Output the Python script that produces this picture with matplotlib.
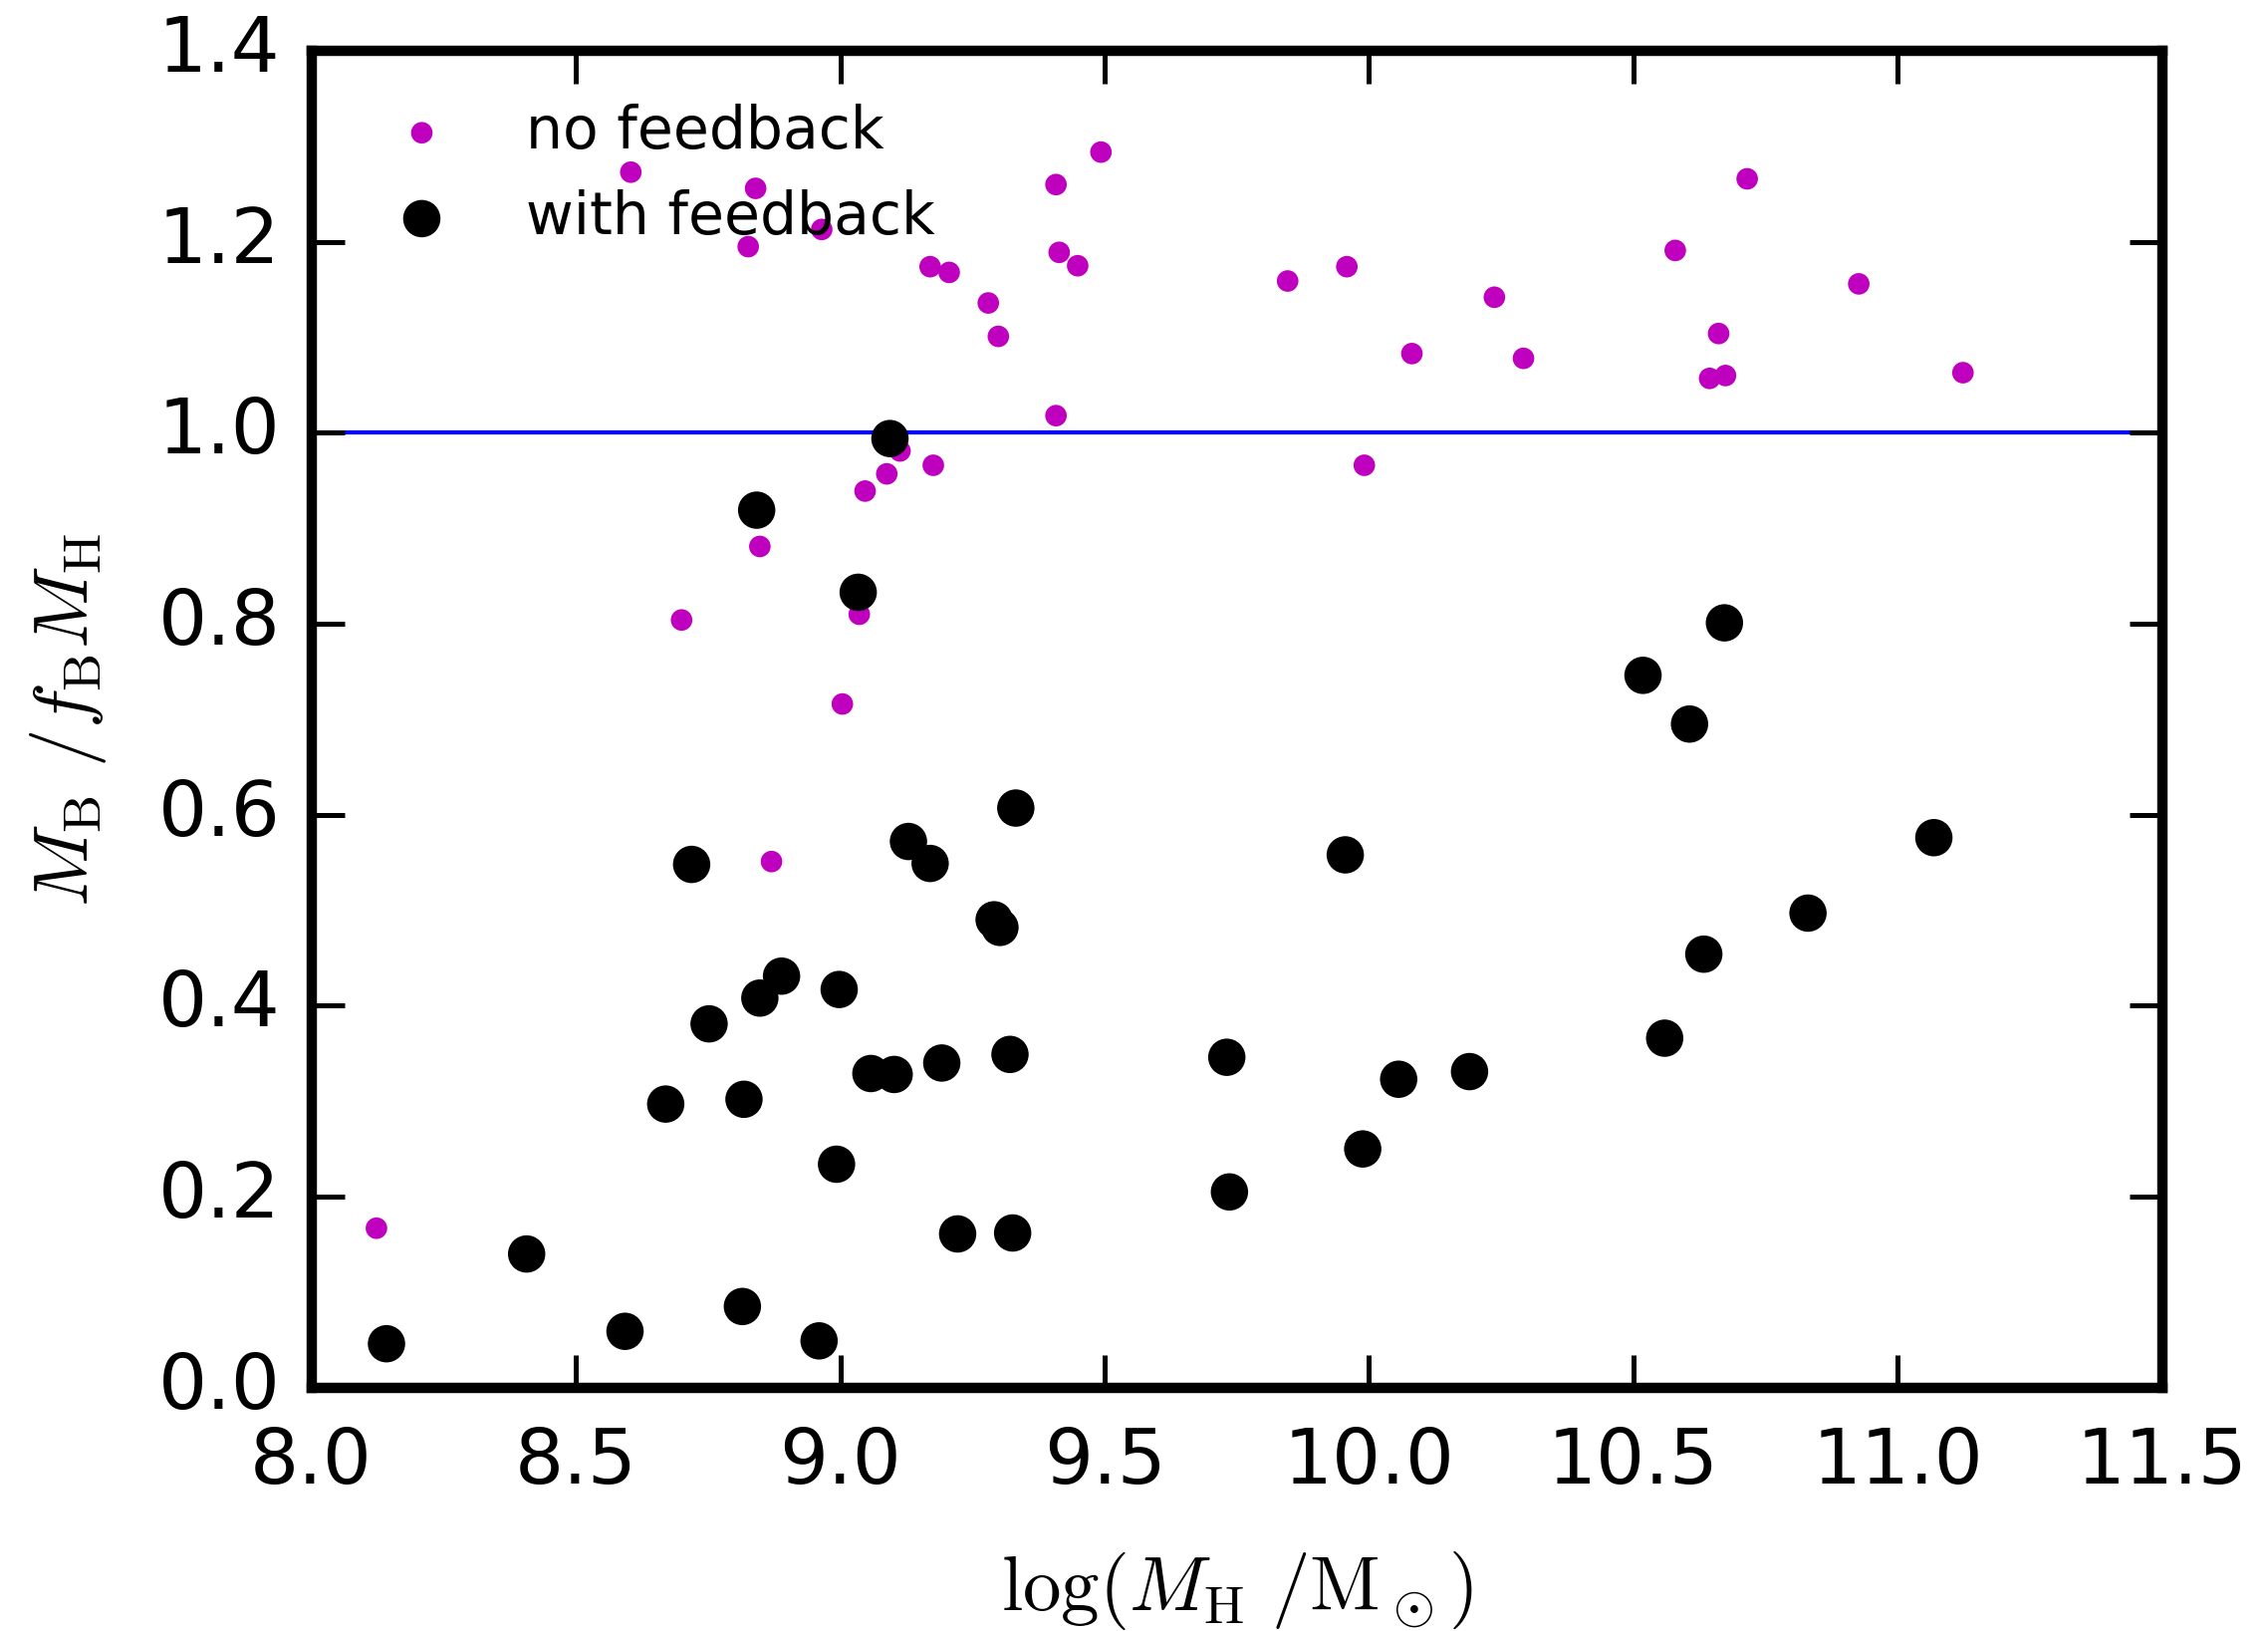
import numpy as np
import matplotlib
matplotlib.use("Agg")
import matplotlib.pyplot as plt

# haloes without feedback (magenta)
x_nofb = [8.604, 8.840, 8.826, 8.965, 8.700, 8.848, 8.870, 8.123, 9.004, 9.036,
          9.047, 9.088, 9.113, 9.176, 9.170, 9.206, 9.280, 9.299, 9.408, 9.493,
          9.414, 9.449, 9.408, 9.846, 9.958, 9.991, 10.081, 10.237, 10.292, 10.579,
          10.661, 10.644, 10.674, 10.715, 10.926, 11.123]
y_nofb = [1.273, 1.256, 1.195, 1.213, 0.804, 0.881, 0.551, 0.167, 0.716, 0.810,
          0.939, 0.957, 0.981, 0.966, 1.174, 1.168, 1.136, 1.101, 1.260, 1.294,
          1.189, 1.175, 1.018, 1.159, 1.174, 0.966, 1.083, 1.142, 1.078, 1.191,
          1.104, 1.057, 1.060, 1.266, 1.156, 1.063]

# haloes with feedback (black)
x_fb = [8.142, 8.407, 8.593, 8.815, 8.960, 8.670, 8.818, 8.719, 8.752, 8.848,
        8.889, 8.993, 8.998, 9.058, 9.102, 9.034, 9.094, 8.842, 9.129, 9.170,
        9.192, 9.222, 9.291, 9.302, 9.332, 9.321, 9.326, 9.731, 9.736, 9.955,
        9.988, 10.056, 10.190, 10.518, 10.606, 10.672, 10.559, 10.633, 10.830, 11.068]
y_fb = [0.046, 0.140, 0.059, 0.085, 0.049, 0.297, 0.302, 0.548, 0.381, 0.408,
        0.431, 0.234, 0.417, 0.329, 0.328, 0.833, 0.994, 0.919, 0.572, 0.549,
        0.340, 0.161, 0.490, 0.482, 0.607, 0.349, 0.162, 0.346, 0.205, 0.558,
        0.250, 0.323, 0.331, 0.746, 0.695, 0.801, 0.366, 0.454, 0.497, 0.576]

plt.style.use('classic')
plt.rcParams['mathtext.fontset'] = 'cm'
plt.rcParams['font.family'] = 'DejaVu Sans'

fig = plt.figure(figsize=(2277/300, 1637/300), dpi=300, facecolor='white')
ax = fig.add_axes([0.1373, 0.1492, 0.8161, 0.8196])

ax.scatter(x_nofb, y_nofb, s=27, c='m', edgecolors='none', zorder=3, label='no feedback')
ax.scatter(x_fb, y_fb, s=81, c='k', edgecolors='none', zorder=3, label='with feedback')
ax.axhline(1.0, color='b', lw=1.0)

ax.set_xlim(8, 11.5)
ax.set_ylim(0, 1.4)
ax.set_xticks(np.arange(8, 11.51, 0.5))
ax.set_yticks(np.arange(0, 1.41, 0.2))
ax.tick_params(which='major', direction='in', length=8, width=1.2,
               labelsize=18.5, top=True, right=True)
ax.tick_params(axis='x', pad=9.2)
ax.tick_params(axis='y', pad=7.5)
ax.minorticks_off()
for sp in ax.spines.values():
    sp.set_linewidth(2.5)

ax.set_xlabel(r'$\log(M_{\rm H}\ /{\rm M}_\odot)$', fontsize=18.5, labelpad=12)
ax.set_ylabel(r'$M_{\rm B}\ /f_{\rm B} M_{\rm H}$', fontsize=18.5, labelpad=12)
ax.legend(loc='upper left', frameon=False, scatterpoints=1, fontsize=14)

fig.savefig('out.png', dpi=300, facecolor='white')
